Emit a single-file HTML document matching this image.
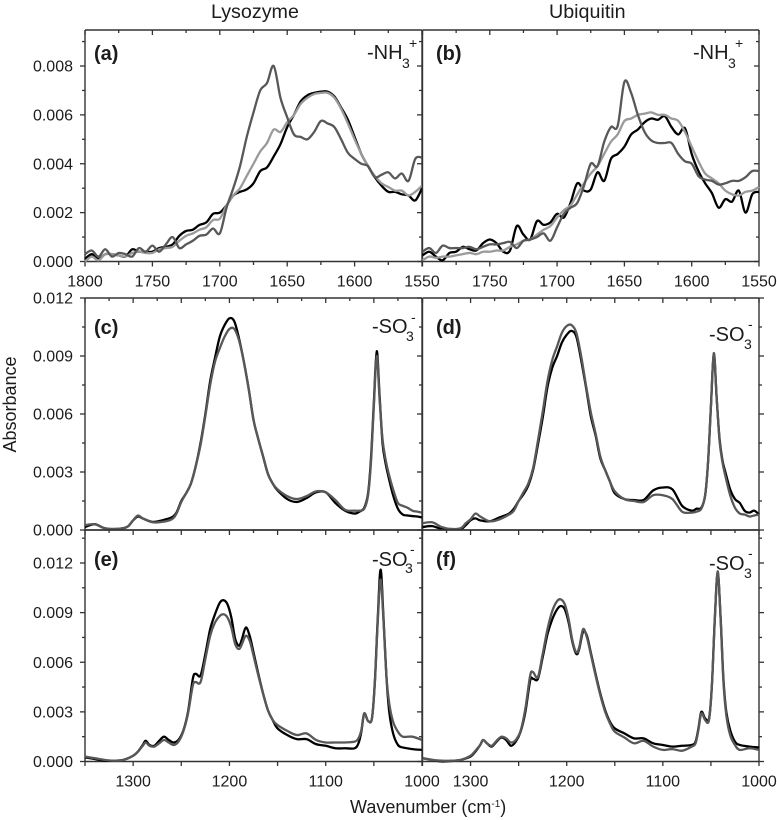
<!DOCTYPE html>
<html lang="en">
<head>
<meta charset="utf-8">
<title>FTIR spectra: Lysozyme and Ubiquitin</title>
<style>
html,body{margin:0;padding:0;background:#fff;}
svg{display:block;}
text{font-family:"Liberation Sans",Arial,sans-serif;fill:#1c1c1c;}
</style>
</head>
<body>
<svg id="chart" xmlns="http://www.w3.org/2000/svg" width="777" height="820" viewBox="0 0 777 820">
<rect x="0" y="0" width="777" height="820" fill="#fff"/>
<g id="plots"></g>
<g>
<text x="211" y="18" font-size="19.7">Lysozyme</text>
<text x="549" y="18" font-size="19.7">Ubiquitin</text>
<text transform="translate(16,404.5) rotate(-90)" text-anchor="middle" font-size="18">Absorbance</text>
<text x="350" y="813" font-size="18">Wavenumber (cm<tspan dy="-6" font-size="10">-1</tspan><tspan dy="6">)</tspan></text>
<text x="94" y="60" font-size="20" font-weight="bold">(a)</text>
<text x="436" y="60" font-size="20" font-weight="bold">(b)</text>
<text x="94" y="334" font-size="20" font-weight="bold">(c)</text>
<text x="436" y="334" font-size="20" font-weight="bold">(d)</text>
<text x="94" y="566" font-size="20" font-weight="bold">(e)</text>
<text x="436" y="566" font-size="20" font-weight="bold">(f)</text>
<g><text x="367" y="59" font-size="20">-NH</text><text x="402" y="68" font-size="14">3</text><text x="409" y="48" font-size="14">+</text></g>
<g><text x="693" y="59" font-size="20">-NH</text><text x="728" y="68" font-size="14">3</text><text x="735" y="48" font-size="14">+</text></g>
<g><text x="372" y="333" font-size="20">-SO</text><text x="406" y="341" font-size="14">3</text><text x="411" y="322" font-size="14">-</text></g>
<g><text x="709" y="341" font-size="20">-SO</text><text x="744" y="349" font-size="14">3</text><text x="748" y="329" font-size="14">-</text></g>
<g><text x="372" y="566" font-size="20">-SO</text><text x="405" y="573" font-size="14">3</text><text x="410" y="554" font-size="14">-</text></g>
<g><text x="709" y="570" font-size="20">-SO</text><text x="744" y="578" font-size="14">3</text><text x="748" y="558" font-size="14">-</text></g>
</g>
</svg>
<script>
// Values are absorbance in units of 0.001.
const wnAmide = [1800,1795,1790,1785,1780,1775,1770,1765,1760,1755,1750,1745,1740,1735,1730,1725,1720,1715,1710,1705,1700,1695,1690,1685,1680,1675,1670,1665,1660,1655,1650,1645,1640,1635,1630,1625,1620,1615,1610,1605,1600,1595,1590,1585,1580,1575,1570,1565,1560,1555,1550];
const aBlack = [0.1,0.3,0.1,0.3,0.3,0.25,0.2,0.5,0.4,0.4,0.4,0.55,0.6,0.7,1.05,1.25,1.3,1.5,1.6,1.95,2.0,2.3,2.7,2.85,2.95,3.2,3.7,3.85,4.3,4.8,5.5,6.0,6.55,6.8,6.9,6.95,6.95,6.75,6.3,5.8,5.1,4.4,3.9,3.45,3.1,2.85,2.85,2.75,2.7,2.5,3.0];
const aLight = [0.0,0.2,0.05,0.3,0.3,0.25,0.2,0.35,0.4,0.35,0.35,0.5,0.55,0.6,0.85,1.05,1.15,1.3,1.4,1.7,1.75,2.3,2.7,3.0,3.5,4.0,4.5,4.85,5.4,5.3,5.7,6.0,6.45,6.7,6.85,6.9,6.9,6.7,6.25,5.65,5.0,4.4,3.9,3.5,3.2,3.05,2.9,2.9,2.7,2.85,3.1];
const aDark = [0.3,0.45,0.2,0.5,0.2,0.35,0.3,0.2,0.55,0.4,0.65,0.4,0.7,1.0,0.55,0.7,0.85,1.05,1.1,1.35,1.15,2.2,3.0,3.9,5.1,6.1,7.0,7.3,8.0,6.7,5.9,5.2,5.1,5.0,5.3,5.75,5.65,5.5,5.0,4.45,4.2,4.0,3.9,3.45,3.55,3.65,3.4,3.6,3.3,4.2,4.25];
const bBlack = [0.25,0.4,0.2,0.05,0.35,0.4,0.6,0.5,0.45,0.75,0.9,0.75,0.4,0.45,1.45,1.1,0.9,1.65,1.5,1.6,1.95,1.8,2.4,3.2,2.9,2.95,3.65,3.3,4.2,4.4,4.7,5.2,5.4,5.7,5.85,5.8,5.95,5.5,5.2,5.45,4.4,3.7,3.2,2.8,2.2,2.55,2.45,2.9,2.0,2.75,2.85];
const bLight = [0.05,0.2,0.15,0.2,0.2,0.25,0.3,0.35,0.3,0.4,0.4,0.45,0.45,0.6,0.7,0.85,0.9,1.1,1.3,1.45,1.8,2.1,2.3,2.75,3.2,3.6,3.9,4.4,4.9,5.2,5.75,5.85,6.0,6.05,6.1,6.0,6.0,5.85,5.75,5.3,4.7,4.1,3.6,3.4,3.2,2.9,2.75,2.7,2.85,2.9,3.05];
const bDark = [0.4,0.55,0.35,0.65,0.55,0.55,0.55,0.6,0.5,0.6,0.7,0.7,0.75,0.8,0.55,0.85,0.9,1.0,1.15,0.85,1.4,1.95,2.2,2.4,3.1,4.0,3.9,4.9,5.5,5.55,7.35,6.9,6.0,5.3,4.95,4.85,4.85,4.85,4.4,4.1,4.0,3.5,3.35,3.3,3.15,3.2,3.3,3.3,3.45,3.7,3.7];
const wnSulfoA = [1350,1340,1330,1320,1310,1305,1300,1295,1290,1280,1270,1260,1255,1250,1245,1240,1235,1230,1225,1220,1215,1210,1205,1200,1195,1190,1185,1180,1175,1170,1165,1160,1155,1150,1140,1130,1120,1110,1100,1090,1080,1070,1065,1060,1056,1053,1050,1047,1044,1041,1038,1035,1030,1025,1020,1015,1010,1005,1000];
const cBlack = [0.15,0.3,0.1,0.05,0.1,0.2,0.5,0.7,0.6,0.42,0.5,0.65,0.9,1.5,1.9,2.4,3.3,4.5,6.0,7.7,8.9,10.0,10.6,10.95,10.8,9.9,8.7,7.3,5.7,4.7,3.8,2.9,2.4,2.05,1.6,1.45,1.65,1.95,1.95,1.4,1.0,0.85,0.95,1.15,1.9,3.7,6.6,9.25,6.9,4.5,3.5,2.8,1.8,1.1,0.8,0.75,0.72,0.7,0.65];
const cDark = [0.25,0.3,0.1,0.05,0.1,0.2,0.5,0.75,0.6,0.4,0.42,0.55,0.85,1.45,1.9,2.4,3.3,4.4,5.9,7.5,8.7,9.4,10.0,10.4,10.4,9.8,8.7,7.3,5.7,4.7,3.8,2.9,2.4,2.1,1.75,1.6,1.75,2.0,1.95,1.55,1.05,1.0,1.0,1.1,1.8,3.5,6.4,9.0,6.7,4.7,3.7,3.0,2.1,1.4,1.25,1.15,1.0,0.95,0.9];
const dBlack = [0.15,0.2,0.05,0.05,0.05,0.25,0.5,0.6,0.5,0.45,0.65,0.85,1.1,1.5,1.85,2.3,3.1,4.4,5.8,7.4,8.4,9.0,9.7,10.1,10.3,10.0,8.8,7.4,5.9,4.9,3.7,3.1,2.5,1.9,1.6,1.55,1.55,2.05,2.2,2.1,1.25,1.0,1.1,1.15,1.8,3.5,6.4,9.1,6.8,4.7,3.6,3.0,2.1,1.6,1.4,1.0,0.9,1.0,0.8];
const dDark = [0.35,0.4,0.15,0.05,0.1,0.35,0.55,0.85,0.7,0.45,0.55,0.8,1.0,1.5,1.95,2.4,3.2,4.6,6.1,7.7,8.8,9.5,10.2,10.55,10.6,10.2,9.0,7.5,6.1,5.0,3.8,3.1,2.5,2.0,1.6,1.5,1.45,1.8,1.8,1.6,0.95,0.9,0.95,1.1,1.8,3.5,6.4,9.15,6.8,4.6,3.5,2.8,1.8,1.15,0.85,0.8,0.7,0.75,0.8];
const wnSulfoB = [1350,1340,1330,1320,1310,1300,1295,1290,1287,1283,1278,1273,1268,1263,1258,1253,1248,1243,1238,1235,1230,1225,1220,1215,1210,1206,1202,1198,1194,1190,1187,1183,1179,1175,1170,1165,1160,1155,1150,1140,1130,1120,1110,1100,1090,1080,1070,1066,1063,1060,1056,1052,1049,1046,1043,1040,1037,1034,1030,1025,1020,1010,1000];
const eBlack = [0.25,0.15,0.05,0.05,0.1,0.35,0.6,1.0,1.25,1.0,0.95,1.25,1.5,1.3,1.15,1.3,1.85,3.0,5.0,5.3,5.2,6.5,8.0,8.9,9.6,9.75,9.5,8.7,7.4,7.0,7.4,8.1,7.6,6.6,5.3,4.1,3.1,2.5,2.0,1.6,1.35,1.35,1.05,0.95,0.8,0.8,0.8,1.1,1.8,2.9,2.45,2.6,4.8,8.6,11.6,8.7,5.2,3.0,1.7,1.0,0.85,0.75,0.7];
const eDark = [0.3,0.2,0.1,0.05,0.1,0.35,0.6,0.95,1.15,0.95,0.9,1.1,1.3,1.15,1.0,1.2,1.8,2.9,4.6,4.8,4.8,6.2,7.6,8.4,8.8,8.9,8.7,8.1,7.1,6.8,7.1,7.6,7.3,6.4,5.2,4.1,3.1,2.5,2.2,1.85,1.6,1.7,1.3,1.15,1.15,1.15,1.2,1.4,1.9,2.9,2.45,2.6,4.7,8.4,11.0,8.5,5.2,3.5,2.4,1.8,1.5,1.5,1.3];
const fBlack = [0.2,0.1,0.0,0.03,0.1,0.3,0.6,1.0,1.3,1.1,0.9,1.2,1.45,1.3,0.95,1.2,1.8,3.0,4.9,5.0,5.0,6.3,7.7,8.6,9.2,9.4,9.2,8.4,7.2,6.5,6.8,7.85,7.6,6.6,5.3,4.1,3.1,2.4,2.0,1.7,1.4,1.4,1.1,1.0,0.9,0.95,1.0,1.2,2.0,3.0,2.6,2.6,4.6,8.6,11.4,8.8,5.0,3.0,1.9,1.2,1.0,0.9,0.85];
const fDark = [0.2,0.1,0.05,0.05,0.1,0.35,0.65,1.0,1.3,1.1,0.95,1.25,1.5,1.4,1.15,1.3,1.85,3.2,5.2,5.4,5.1,6.5,8.0,9.1,9.7,9.8,9.5,8.6,7.3,6.6,6.9,8.0,7.5,6.5,5.2,4.0,3.0,2.3,1.8,1.45,1.1,1.25,0.9,0.7,0.75,0.65,0.9,1.1,1.9,2.9,2.5,2.5,4.6,8.5,11.5,8.7,4.8,2.8,1.6,1.0,0.7,0.8,0.7];
const yTicksAmide = ["0.000","0.002","0.004","0.006","0.008"];
const yTicksSulfo = ["0.000","0.003","0.006","0.009","0.012"];
const xTicksAmide = ["1800","1750","1700","1650","1600","1550"];
const xTicksSulfo = ["1300","1200","1100","1000"];

const NS = 'http://www.w3.org/2000/svg';
const plots = document.getElementById('plots');
const AXIS = '#333';

function linear(d0, d1, r0, r1) {
  return function (v) { return r0 + (v - d0) * (r1 - r0) / (d1 - d0); };
}

function addLine(parent, x1, y1, x2, y2, name, width) {
  const el = document.createElementNS(NS, 'line');
  
  
  el.setAttribute('x1', x1);
  el.setAttribute('y1', y1);
  el.setAttribute('x2', x2);
  el.setAttribute('y2', y2);
  el.setAttribute('stroke', AXIS);
  el.setAttribute('stroke-width', width || 1.3);
  parent.appendChild(el);
}

function addLabel(parent, x, y, anchor, str, name) {
  const el = document.createElementNS(NS, 'text');
  
  
  el.setAttribute('x', x);
  el.setAttribute('y', y);
  el.setAttribute('text-anchor', anchor);
  el.setAttribute('font-size', '16');
  el.textContent = str;
  parent.appendChild(el);
}

function addSeries(parent, xs, ys, xFn, yFn, color, name) {
  const el = document.createElementNS(NS, 'path');
  const px = xs.map(xFn);
  const py = ys.map(yFn);
  const n = px.length;
  let d = 'M' + px[0].toFixed(2) + ' ' + py[0].toFixed(2);
  for (let i = 0; i < n - 1; i++) {
    const a = Math.max(i - 1, 0);
    const b = Math.min(i + 2, n - 1);
    const c1x = px[i] + (px[i + 1] - px[a]) / 6;
    const c1y = py[i] + (py[i + 1] - py[a]) / 6;
    const c2x = px[i + 1] - (px[b] - px[i]) / 6;
    const c2y = py[i + 1] - (py[b] - py[i]) / 6;
    d += 'C' + c1x.toFixed(2) + ' ' + c1y.toFixed(2) + ' ' + c2x.toFixed(2) + ' ' + c2y.toFixed(2) + ' ' + px[i + 1].toFixed(2) + ' ' + py[i + 1].toFixed(2);
  }
  
  
  el.setAttribute('d', d);
  el.setAttribute('fill', 'none');
  el.setAttribute('stroke', color);
  el.setAttribute('stroke-width', '2.3');
  el.setAttribute('stroke-linejoin', 'round');
  parent.appendChild(el);
}

function drawPanel(p) {
  const g = document.createElementNS(NS, 'g');
  
  
  plots.appendChild(g);
  const x = linear(p.wnLeft, p.wnRight, p.left, p.right);
  const y = linear(0, p.yPer, p.bottom, p.yAt);

  // vertical ticks on the top and bottom edges
  for (let w = p.wnLeft; w >= p.wnRight; w -= 25) {
    const major = (w % 50 === 0);
    const px = x(w);
    addLine(g, px, p.top, px, p.top + (major ? 5 : 3), 'x-tick-top');
    if (p.bottomTicks === 'all') {
      addLine(g, px, p.bottom, px, p.bottom + (major ? 5 : 3.5), 'x-tick-bottom');
    } else if (p.bottomTicks === 'major' && major) {
      addLine(g, px, p.bottom, px, p.bottom + 4.5, 'x-tick-bottom');
    }
  }
  // horizontal ticks on the left and right edges
  for (let i = 0; y(i * p.yMinor) >= p.top - 0.5; i++) {
    const v = i * p.yMinor;
    const py = y(v);
    const major = (i % 2 === 0);
    const len = major ? 5 : 3;
    if (p.leftTicks) addLine(g, p.left - len, py, p.left, py, 'y-tick-left');
    addLine(g, p.right + p.rightDir * len, py, p.right, py, 'y-tick-right');
  }
  // frame
  addLine(g, p.left, p.top, p.right, p.top, 'frame-top', 1.4);
  addLine(g, p.left, p.bottom, p.right, p.bottom, 'frame-bottom', 1.4);
  addLine(g, p.left, p.top, p.left, p.bottom, 'frame-left', 1.4);
  addLine(g, p.right, p.top, p.right, p.bottom, 'frame-right', 1.4);

  // y tick labels
  if (p.yLabels) {
    for (let i = 0; i < p.yLabels.length; i++) {
      addLabel(g, 73, y(parseFloat(p.yLabels[i]) * 1000) + 5.5, 'end', p.yLabels[i], 'y-tick-label');
    }
  }
  // x tick labels
  if (p.xLabels) {
    for (let i = 0; i < p.xLabels.length; i++) {
      addLabel(g, x(parseFloat(p.xLabels[i])), p.bottom + 25, 'middle', p.xLabels[i], 'x-tick-label');
    }
  }
  // series
  const colors = { black: '#000', light: '#9a9a9a', dark: '#585858' };
  for (let i = 0; i < p.series.length; i++) {
    const s = p.series[i];
    addSeries(g, p.wn, s[1], x, y, colors[s[0]], 'spectrum-' + p.id + '-' + s[0]);
  }
}

const commonA = { wnLeft: 1800, wnRight: 1550, top: 30, bottom: 261.5, yPer: 8, yAt: 66, yMinor: 1, bottomTicks: 'all', wn: wnAmide };
const commonC = { wnLeft: 1350, wnRight: 1000, top: 298, bottom: 530, yPer: 12, yAt: 298, yMinor: 1.5, bottomTicks: 'none' };
const commonE = { wnLeft: 1350, wnRight: 1000, top: 530, bottom: 761.5, yPer: 12, yAt: 563, yMinor: 1.5, bottomTicks: 'major' };

drawPanel(Object.assign({}, commonA, { id: 'a', left: 85, right: 422, leftTicks: true, rightDir: -1, yLabels: yTicksAmide, xLabels: xTicksAmide, series: [['black', aBlack], ['light', aLight], ['dark', aDark]] }));
drawPanel(Object.assign({}, commonA, { id: 'b', left: 422.5, right: 759, leftTicks: false, rightDir: -1, xLabels: xTicksAmide.slice(1), series: [['black', bBlack], ['light', bLight], ['dark', bDark]] }));
drawPanel(Object.assign({}, commonC, { id: 'c', left: 85, right: 422, leftTicks: true, rightDir: -1, yLabels: yTicksSulfo, wn: wnSulfoA, series: [['black', cBlack], ['dark', cDark]] }));
drawPanel(Object.assign({}, commonC, { id: 'd', left: 422.5, right: 759, leftTicks: false, rightDir: 1, wn: wnSulfoA, series: [['black', dBlack], ['dark', dDark]] }));
drawPanel(Object.assign({}, commonE, { id: 'e', left: 85, right: 422, leftTicks: true, rightDir: -1, yLabels: yTicksSulfo, xLabels: xTicksSulfo, wn: wnSulfoB, series: [['black', eBlack], ['dark', eDark]] }));
drawPanel(Object.assign({}, commonE, { id: 'f', left: 422.5, right: 759, leftTicks: false, rightDir: 1, xLabels: xTicksSulfo, wn: wnSulfoB, series: [['black', fBlack], ['dark', fDark]] }));
</script>
</body>
</html>
